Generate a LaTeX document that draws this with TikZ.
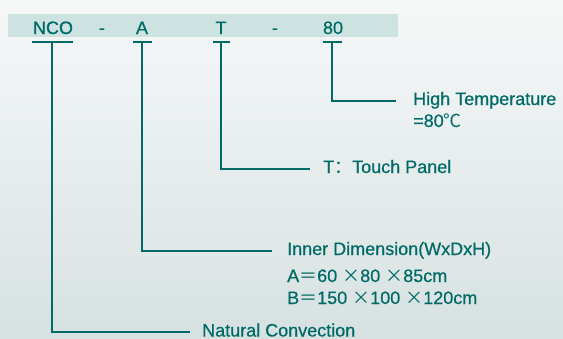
\documentclass[tikz,border=0pt]{standalone}
\usepackage{fontspec}
\setmainfont{Liberation Sans}[FakeBold=0.6]
\newfontface\heavy{Liberation Sans}[FakeBold=0.6]
\newfontfamily\cjk{Noto Sans CJK SC}
\usetikzlibrary{positioning}
\definecolor{codeteal}{HTML}{006A66}
\definecolor{bandteal}{HTML}{CCE3E1}
\definecolor{bgtop}{HTML}{F6F8F8}
\definecolor{bgbottom}{HTML}{D7E1E1}

\begin{document}
\begin{tikzpicture}[x=1pt,y=-1pt,
        code/.style={anchor=base,inner sep=0pt,text=codeteal,font=\fontsize{18}{22}\heavy},
        desc/.style={anchor=base west,inner sep=0pt,text=codeteal,text height=13pt,text depth=4pt,font=\fontsize{18}{22}\heavy},
        leader/.style={draw=codeteal,line width=2pt}]
        \useasboundingbox (0,0) rectangle (563,338);
        \fill[top color=bgtop,bottom color=bgbottom] (0,0) rectangle (563,338);
        \fill[bandteal] (8,14) rectangle (398,37);

        % model code
        \node[code] (nco) at (53,34) {NCO};
        \node[code] (dash1) at (102,34) {-};
        \node[code] (a) at (142,34) {A};
        \node[code] (t) at (221,34) {T};
        \node[code] (dash2) at (275,34) {-};
        \node[code] (e80) at (333,34) {80};

        \coordinate (ncoB) at (52,42);
        \coordinate (aB) at (142,42);
        \coordinate (tB) at (221,42);
        \coordinate (e80B) at (332,42);
        \draw[leader] ([xshift=-20.5pt]ncoB) -- ([xshift=20.5pt]ncoB);
        \draw[leader] ([xshift=-9.5pt]aB) -- ([xshift=9.5pt]aB);
        \draw[leader] ([xshift=-8.5pt]tB) -- ([xshift=8.5pt]tB);
        \draw[leader] ([xshift=-9.5pt]e80B) -- ([xshift=9.5pt]e80B);

        % meanings
        \node[desc] (hi) at (413,105) {High Temperature};
        \node[desc] (hi2) at (413,127) {=80{\cjk ℃}};
        \node[desc] (tp) at (323,173) {T{\cjk ：}Touch Panel};
        \node[desc] (dim) at (287,255) {Inner Dimension(WxDxH)};
        \node[desc] (dimA) at (287,282) {A{\cjk ＝}60 {\cjk ×}80 {\cjk ×}85cm};
        \node[desc] (dimB) at (287,304) {B{\cjk ＝}150 {\cjk ×}100 {\cjk ×}120cm};
        \node[desc] (nc) at (202,336.5) {Natural Convection};

        \draw[leader] (e80B) |- ([xshift=-17pt]hi.west);
        \draw[leader] (tB) |- ([xshift=-13pt]tp.west);
        \draw[leader] (aB) |- ([xshift=-15pt]dim.west);
        \draw[leader] (ncoB) |- ([xshift=-12pt]nc.west);
\end{tikzpicture}
\end{document}
